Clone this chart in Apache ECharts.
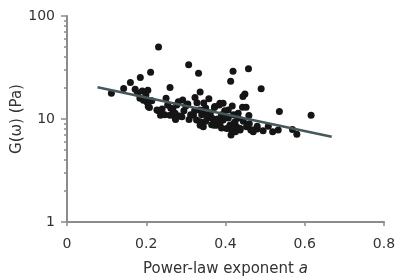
<!DOCTYPE html>
<html>
<head>
<meta charset="utf-8">
<script src="https://cdn.jsdelivr.net/npm/echarts@6/dist/echarts.min.js"></script>
<style>
  html, body { margin: 0; padding: 0; background: #fff; }
  #chart { width: 398px; height: 278px; }
</style>
</head>
<body>
<div id="chart"></div>
<script>
// power-law exponent a (x) and modulus G(w) in Pa (y)
var exponentA = [
  0.112, 0.143, 0.160, 0.185, 0.211, 0.231, 0.172, 0.178, 0.190, 0.204,
  0.199, 0.184, 0.193, 0.201, 0.214, 0.208, 0.205, 0.227, 0.231, 0.236,
  0.250, 0.260, 0.254, 0.262, 0.267, 0.268, 0.260, 0.277, 0.281, 0.292,
  0.300, 0.273, 0.274, 0.283, 0.273, 0.307, 0.332, 0.336, 0.323, 0.328,
  0.358, 0.334, 0.344, 0.308, 0.319, 0.327, 0.336, 0.344, 0.357, 0.353,
  0.365, 0.369, 0.378, 0.371, 0.386, 0.372, 0.373, 0.384, 0.394, 0.386,
  0.394, 0.403, 0.407, 0.411, 0.414, 0.407, 0.417, 0.424, 0.432, 0.432,
  0.428, 0.437, 0.437, 0.443, 0.452, 0.453, 0.459, 0.464, 0.470, 0.470,
  0.419, 0.413, 0.458, 0.449, 0.444, 0.490, 0.495, 0.508, 0.519, 0.533,
  0.536, 0.569, 0.580, 0.616, 0.336, 0.340, 0.350, 0.362, 0.390, 0.400,
  0.398, 0.380, 0.420, 0.345, 0.322, 0.312, 0.290, 0.247, 0.240, 0.420,
  0.445, 0.460, 0.480, 0.480, 0.415, 0.425, 0.390, 0.365, 0.350, 0.295,
  0.305
];
var modulusG = [
  17.8, 19.8, 22.6, 25.3, 28.4, 50.0, 19.5, 17.8, 18.7, 19.0,
  17.1, 15.9, 15.2, 14.7, 15.0, 12.9, 13.2, 12.2, 12.0, 10.9,
  15.9, 20.2, 13.7, 12.7, 12.5, 11.4, 10.9, 13.7, 14.7, 15.3,
  13.4, 11.4, 9.9, 10.7, 10.2, 33.7, 27.8, 18.3, 16.2, 14.4,
  15.7, 12.2, 12.2, 9.9, 10.9, 9.8, 8.7, 8.4, 10.5, 10.9,
  10.2, 10.0, 8.7, 8.7, 9.1, 12.9, 13.2, 13.7, 14.2, 14.2,
  9.8, 8.1, 10.2, 8.7, 7.0, 12.2, 13.4, 9.4, 10.2, 11.4,
  8.4, 7.8, 8.1, 13.0, 13.0, 8.4, 10.8, 7.8, 7.5, 7.8,
  29.0, 23.2, 30.8, 17.5, 16.5, 19.7, 7.7, 8.5, 7.5, 7.8,
  11.8, 7.9, 7.1, 10.9, 9.4, 11.0, 12.8, 11.5, 11.0, 10.5,
  12.0, 10.0, 9.0, 14.3, 12.0, 11.0, 10.5, 11.0, 12.5, 11.0,
  9.5, 9.0, 8.0, 8.5, 7.8, 7.5, 8.2, 8.8, 9.5, 12.0,
  14.0
];
// fitted trend line end points
var fitX = [0.077, 0.668];
var fitG = [20.3, 6.73];
// minor ticks on the log axis
var minorTicks = [2, 3, 4, 5, 6, 7, 8, 9, 20, 30, 40, 50, 60, 70, 80, 90];

var points = exponentA.map(function(a, i){ return [a, modulusG[i]]; });
var fitLine = fitX.map(function(a, i){ return [a, fitG[i]]; });

var axisGray = '#8c8c8c';
var textColor = '#333';
var font = 'DejaVu Sans, sans-serif';

var chart = echarts.init(document.getElementById('chart'));
var option = {
    animation: false,
    grid: { left: 67, right: 14, top: 16, bottom: 56, containLabel: false, outerBoundsMode: 'none' },
    xAxis: {
        type: 'value',
        min: 0, max: 0.8, interval: 0.2,
        splitLine: { show: false },
        axisLine: { lineStyle: { color: axisGray, width: 2 } },
        axisTick: { length: 4, lineStyle: { color: axisGray, width: 1.5 } },
        axisLabel: { color: textColor, fontSize: 14, fontFamily: font, margin: 15,
            formatter: function(v){ return v === 0 ? '0' : String(+v.toFixed(1)); } },
        name: '{t|Power-law exponent }{i|a}',
        nameLocation: 'middle',
        nameGap: 40,
        nameMoveOverlap: false,
        nameTextStyle: {
            rich: {
                t: { color: textColor, fontSize: 15, fontFamily: font },
                i: { color: textColor, fontSize: 15, fontFamily: font, fontStyle: 'italic' }
            }
        }
    },
    yAxis: [{
        type: 'log', logBase: 10,
        min: 1, max: 100,
        splitLine: { show: false },
        axisLine: { lineStyle: { color: axisGray, width: 2 } },
        axisTick: { length: 6, lineStyle: { color: axisGray, width: 1.5 } },
        axisLabel: { color: textColor, fontSize: 14, fontFamily: font, margin: 12 },
        name: 'G(ω) (Pa)',
        nameLocation: 'middle',
        nameGap: 42,
        nameMoveOverlap: false,
        nameTextStyle: { color: textColor, fontSize: 15, fontFamily: font }
    }, {
        type: 'log', logBase: 10,
        min: 1, max: 100,
        position: 'left',
        axisLine: { show: false },
        splitLine: { show: false },
        axisLabel: { show: false },
        axisTick: { length: 3, customValues: minorTicks, lineStyle: { color: axisGray, width: 1.5 } }
    }],
    series: [{
        type: 'scatter',
        data: points,
        symbolSize: 7,
        itemStyle: { color: '#151515', opacity: 1 },
        z: 2
    }, {
        type: 'line',
        data: fitLine,
        showSymbol: false,
        symbol: 'none',
        lineStyle: { color: '#46585a', width: 2.5 },
        z: 3
    }]
};
chart.setOption(option);
</script>
</body>
</html>
